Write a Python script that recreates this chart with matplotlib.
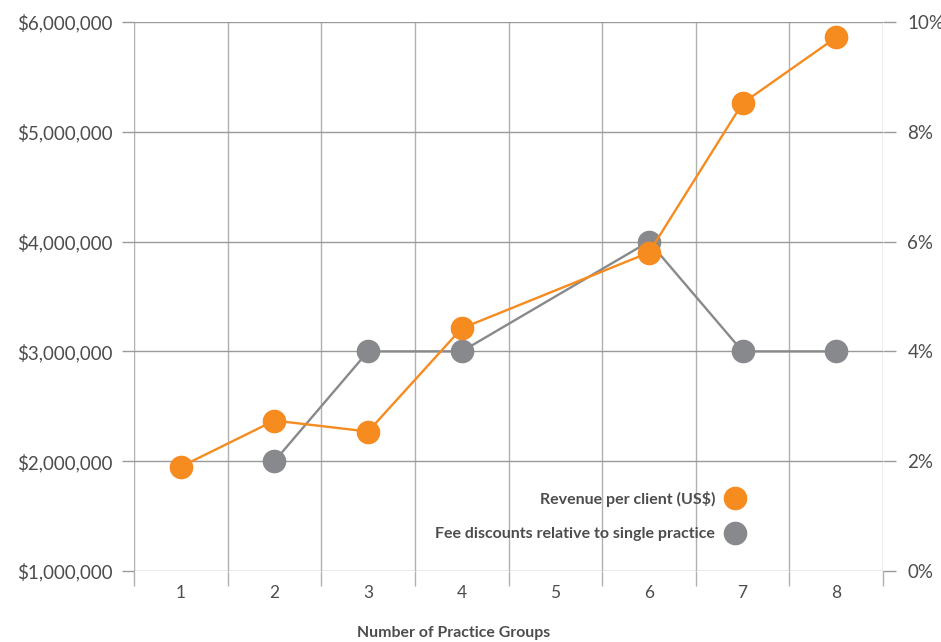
import numpy as np
import matplotlib.pyplot as plt
from matplotlib.lines import Line2D
from matplotlib.ticker import FuncFormatter

plt.rcParams['font.family'] = ['Lato', 'DejaVu Sans']

# number of practice groups (no data point for 5)
grupos_receita = [1, 2, 3, 4, 6, 7, 8]
receita = [1950000, 2370000, 2270000, 3210000, 3900000, 5260000, 5860000]

grupos_desconto = [2, 3, 4, 6, 7, 8]
desconto = [2, 4, 4, 6, 4, 4]

categorias = [1, 2, 3, 4, 5, 6, 7, 8]

laranja = '#F68B1F'
cinza = '#88898C'
grade_v = '#B0B0B0'
grade_h = '#9A9A9A'
texto = '#4D4D4D'

fig = plt.figure(figsize=(9.41, 6.42), dpi=100)
pos = [134/941, 1 - 571/642, (883-134)/941, (571-22)/642]
ax = fig.add_axes(pos)
ax2 = ax.twinx()

ax.set_xlim(0.5, 8.5)
ax.set_ylim(1000000, 6000000)
ax2.set_ylim(0, 10)

for s in list(ax.spines.values()) + list(ax2.spines.values()):
    s.set_visible(False)

# category boundaries as vertical grid, extending below as ticks
ax.set_xticks(categorias)
ax.set_xticks(np.arange(0.5, 9, 1), minor=True)
ax.tick_params(axis='x', which='major', length=0, pad=10, labelsize=12.5, labelcolor=texto)
ax.tick_params(axis='x', which='minor', length=11, width=1, color=grade_v, direction='out')
ax.grid(True, axis='x', which='minor', color=grade_v, linewidth=1)

ax.set_yticks(np.arange(1000000, 6000001, 1000000))
ax.yaxis.set_major_formatter(FuncFormatter(lambda v, p: '${:,.0f}'.format(v)))
ax.tick_params(axis='y', length=9, width=1, color=grade_h, pad=6.5, labelsize=13.5, labelcolor=texto)
ax.grid(True, axis='y', color=grade_h, linewidth=1)

ax2.set_yticks(np.arange(0, 11, 2))
ax2.yaxis.set_major_formatter(FuncFormatter(lambda v, p: '{:.0f}%'.format(v)))
ax2.tick_params(axis='y', length=9.5, width=1, color=grade_h, pad=8, labelsize=13.5, labelcolor=texto)

ax2.plot(grupos_desconto, desconto, color=cinza, linewidth=1.7, marker='o',
         markersize=16, zorder=3)

# revenue series on its own layer so it sits above the grey series
ax3 = fig.add_axes(pos, sharex=ax)
ax3.set_ylim(ax.get_ylim())
ax3.axis('off')
ax3.plot(grupos_receita, receita, color=laranja, linewidth=1.7, marker='o',
         markersize=16, zorder=3)

handles = [Line2D([], [], linestyle='none', marker='o', markersize=16, color=laranja),
           Line2D([], [], linestyle='none', marker='o', markersize=16, color=cinza)]
rotulos = ['Revenue per client (US$)', 'Fee discounts relative to single practice']
leg = ax3.legend(handles, rotulos, markerfirst=False, frameon=False, loc='lower right',
                 bbox_to_anchor=(0.837, 0.028), labelspacing=1.28, handletextpad=0.57,
                 handlelength=1.4, prop={'weight': 'bold', 'size': 11.5})
for t in leg.get_texts():
    t.set_color(texto)

fig.text(454/941, 1 - 633/642, 'Number of Practice Groups', ha='center', va='center',
         fontsize=11.4, fontweight='bold', color=texto)

fig.savefig('out.png', dpi=100)
